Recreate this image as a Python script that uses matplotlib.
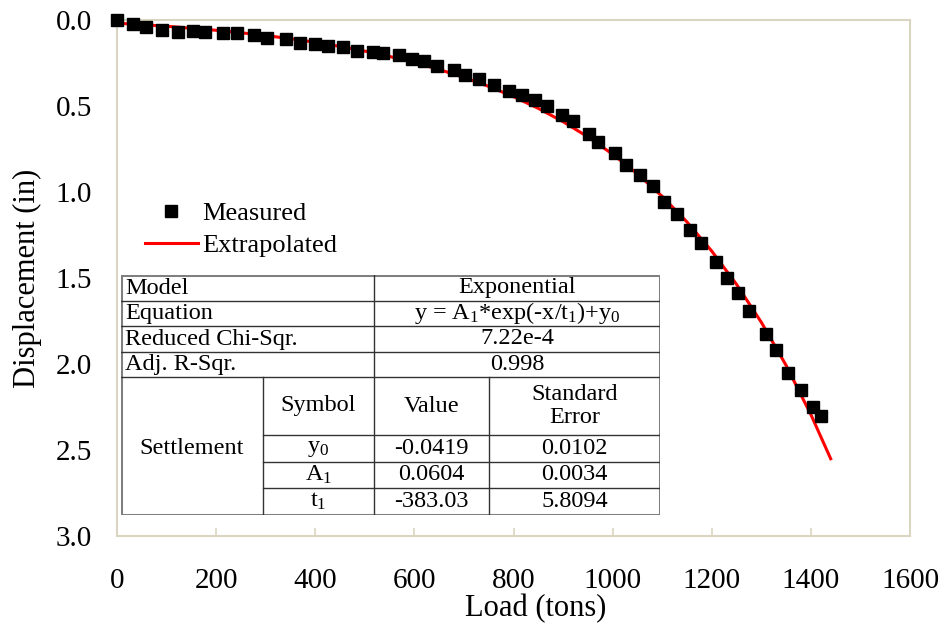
import numpy as np
import matplotlib
matplotlib.use("Agg")
import matplotlib.pyplot as plt
from matplotlib.lines import Line2D

plt.rcParams['font.family'] = ['Liberation Serif', 'DejaVu Serif']
plt.rcParams['mathtext.fontset'] = 'custom'
plt.rcParams['mathtext.rm'] = 'Liberation Serif'
plt.rcParams['mathtext.it'] = 'Liberation Serif:italic'
plt.rcParams['mathtext.default'] = 'regular'

# measured load-settlement points
load_meas = [0, 32, 58, 91, 123, 153, 177, 214, 243, 276, 303, 340, 370, 399,
             426, 455, 484, 517, 537, 569, 595, 619, 645, 679, 703, 730, 761,
             791, 817, 843, 868, 897, 921, 952, 970, 1004, 1026, 1055, 1081,
             1104, 1129, 1157, 1179, 1208, 1230, 1252, 1276, 1309, 1329, 1354,
             1381, 1404, 1420]
disp_meas = [0.0, 0.025, 0.043, 0.058, 0.068, 0.062, 0.070, 0.074, 0.078,
             0.089, 0.103, 0.112, 0.132, 0.140, 0.153, 0.159, 0.180, 0.188,
             0.194, 0.205, 0.229, 0.240, 0.266, 0.291, 0.320, 0.343, 0.378,
             0.411, 0.434, 0.465, 0.498, 0.550, 0.587, 0.665, 0.711, 0.773,
             0.843, 0.901, 0.967, 1.056, 1.128, 1.219, 1.298, 1.409, 1.498,
             1.589, 1.694, 1.824, 1.920, 2.050, 2.150, 2.250, 2.300]

# extrapolated curve
load_fit = [0, 50, 100, 150, 200, 250, 300, 350, 400, 450, 500, 550, 600, 650,
            700, 750, 800, 850, 900, 950, 1000, 1050, 1100, 1150, 1200, 1250,
            1300, 1350, 1400, 1440]
disp_fit = [0.0185, 0.0269, 0.0365, 0.0475, 0.0599, 0.0741, 0.0903, 0.1087,
            0.1297, 0.1537, 0.1809, 0.2120, 0.2474, 0.2878, 0.3337, 0.3861,
            0.4458, 0.5138, 0.5912, 0.6795, 0.7802, 0.8947, 1.0254, 1.1741,
            1.3437, 1.5369, 1.7574, 2.0079, 2.2938, 2.5510]

# fit summary table
summary_names = ["Model", "Equation", "Reduced Chi-Sqr.", "Adj. R-Sqr."]
summary_values = ["Exponential", r"y = A$_1$*exp(-x/t$_1$)+y$_0$", "7.22e-4", "0.998"]
param_header = ["Symbol", "Value", "Standard\nError"]
param_symbols = [r"y$_0$", r"A$_1$", r"t$_1$"]
param_values = ["-0.0419", "0.0604", "-383.03"]
param_errors = ["0.0102", "0.0034", "5.8094"]

W, H = 945, 626
fig = plt.figure(figsize=(W / 100, H / 100), dpi=100)
ax = fig.add_axes([117 / W, 1 - 536 / H, (910 - 117) / W, (536 - 20) / H])

frame = '#D9D5C1'
ax.plot(load_fit, disp_fit, color='#FF0000', lw=2.2, zorder=2, label='Extrapolated')
ax.plot(load_meas, disp_meas, 's', color='black', ms=8.5, zorder=3,
        clip_on=False, label='Measured')

ax.set_xlim(0, 1600)
ax.set_ylim(3.0, 0.0)
ax.set_xticks(np.arange(0, 1601, 200))
ax.set_yticks(np.arange(0, 3.01, 0.5))
ax.set_yticklabels([f"{v:.1f}" for v in np.arange(0, 3.01, 0.5)])
for s in ax.spines.values():
    s.set_color(frame)
    s.set_linewidth(1.5)
ax.tick_params(axis='x', direction='in', length=6, width=1.2, color=frame,
               pad=23, labelsize=21)
ax.tick_params(axis='y', length=0, pad=18, labelsize=21)

ax.set_xlabel("Load (tons)", fontsize=22)
ax.xaxis.set_label_coords(0.528, -0.113)
ax.set_ylabel("Displacement (in)", fontsize=22)
ax.yaxis.set_label_coords(-0.095, 0.5)

handles = [Line2D([], [], ls='none', marker='s', color='black', ms=8.5),
           Line2D([], [], color='#FF0000', lw=2.2)]
fig.legend(handles, ['Measured', 'Extrapolated'], loc='upper left',
           bbox_to_anchor=(145 / W, 1 - 202 / H), frameon=False, fontsize=19,
           handlelength=2.0, handletextpad=0.15, labelspacing=0.3,
           borderpad=0, borderaxespad=0)

# table drawn in pixel coordinates
tx0, tx1, ty0, ty1 = 121, 660, 275, 515
tab = fig.add_axes([tx0 / W, 1 - ty1 / H, (tx1 - tx0) / W, (ty1 - ty0) / H])
tab.set_xlim(tx0, tx1)
tab.set_ylim(ty1, ty0)
tab.axis('off')
tab.add_patch(plt.Rectangle((tx0, ty0), tx1 - tx0, ty1 - ty0, facecolor='white',
                            edgecolor='#808080', lw=2.2, zorder=1))
rows = [275, 301, 326, 352, 377, 435, 462, 488, 515]
c_set, c_mid, c_val = 263, 374, 489
ink = '#333333'
for y in rows[1:5]:
    tab.plot([tx0, tx1], [y, y], color=ink, lw=1.0, zorder=2)
for y in rows[5:8]:
    tab.plot([c_set, tx1], [y, y], color=ink, lw=1.0, zorder=2)
tab.plot([c_mid, c_mid], [ty0, ty1], color=ink, lw=1.0, zorder=2)
tab.plot([c_set, c_set], [rows[4], ty1], color=ink, lw=1.0, zorder=2)
tab.plot([c_val, c_val], [rows[4], ty1], color=ink, lw=1.0, zorder=2)

fs = 17.5
for i, (name, val) in enumerate(zip(summary_names, summary_values)):
    yc = (rows[i] + rows[i + 1]) / 2
    tab.text(tx0 + 4, yc, name, fontsize=fs, ha='left', va='center')
    tab.text((c_mid + tx1) / 2, yc, val, fontsize=fs, ha='center', va='center')

col_centers = [(c_set + c_mid) / 2, (c_mid + c_val) / 2, (c_val + tx1) / 2]
yc = (rows[4] + rows[5]) / 2
for xc, txt in zip(col_centers, param_header):
    tab.text(xc, yc, txt, fontsize=fs, ha='center', va='center', linespacing=1.1)
tab.text((tx0 + c_set) / 2, (rows[4] + ty1) / 2 + 2, "Settlement", fontsize=fs,
         ha='center', va='center')
for i in range(3):
    yc = (rows[5 + i] + rows[6 + i]) / 2
    for xc, txt in zip(col_centers, [param_symbols[i], param_values[i], param_errors[i]]):
        tab.text(xc, yc, txt, fontsize=fs, ha='center', va='center')

fig.savefig("out.png", dpi=100)
